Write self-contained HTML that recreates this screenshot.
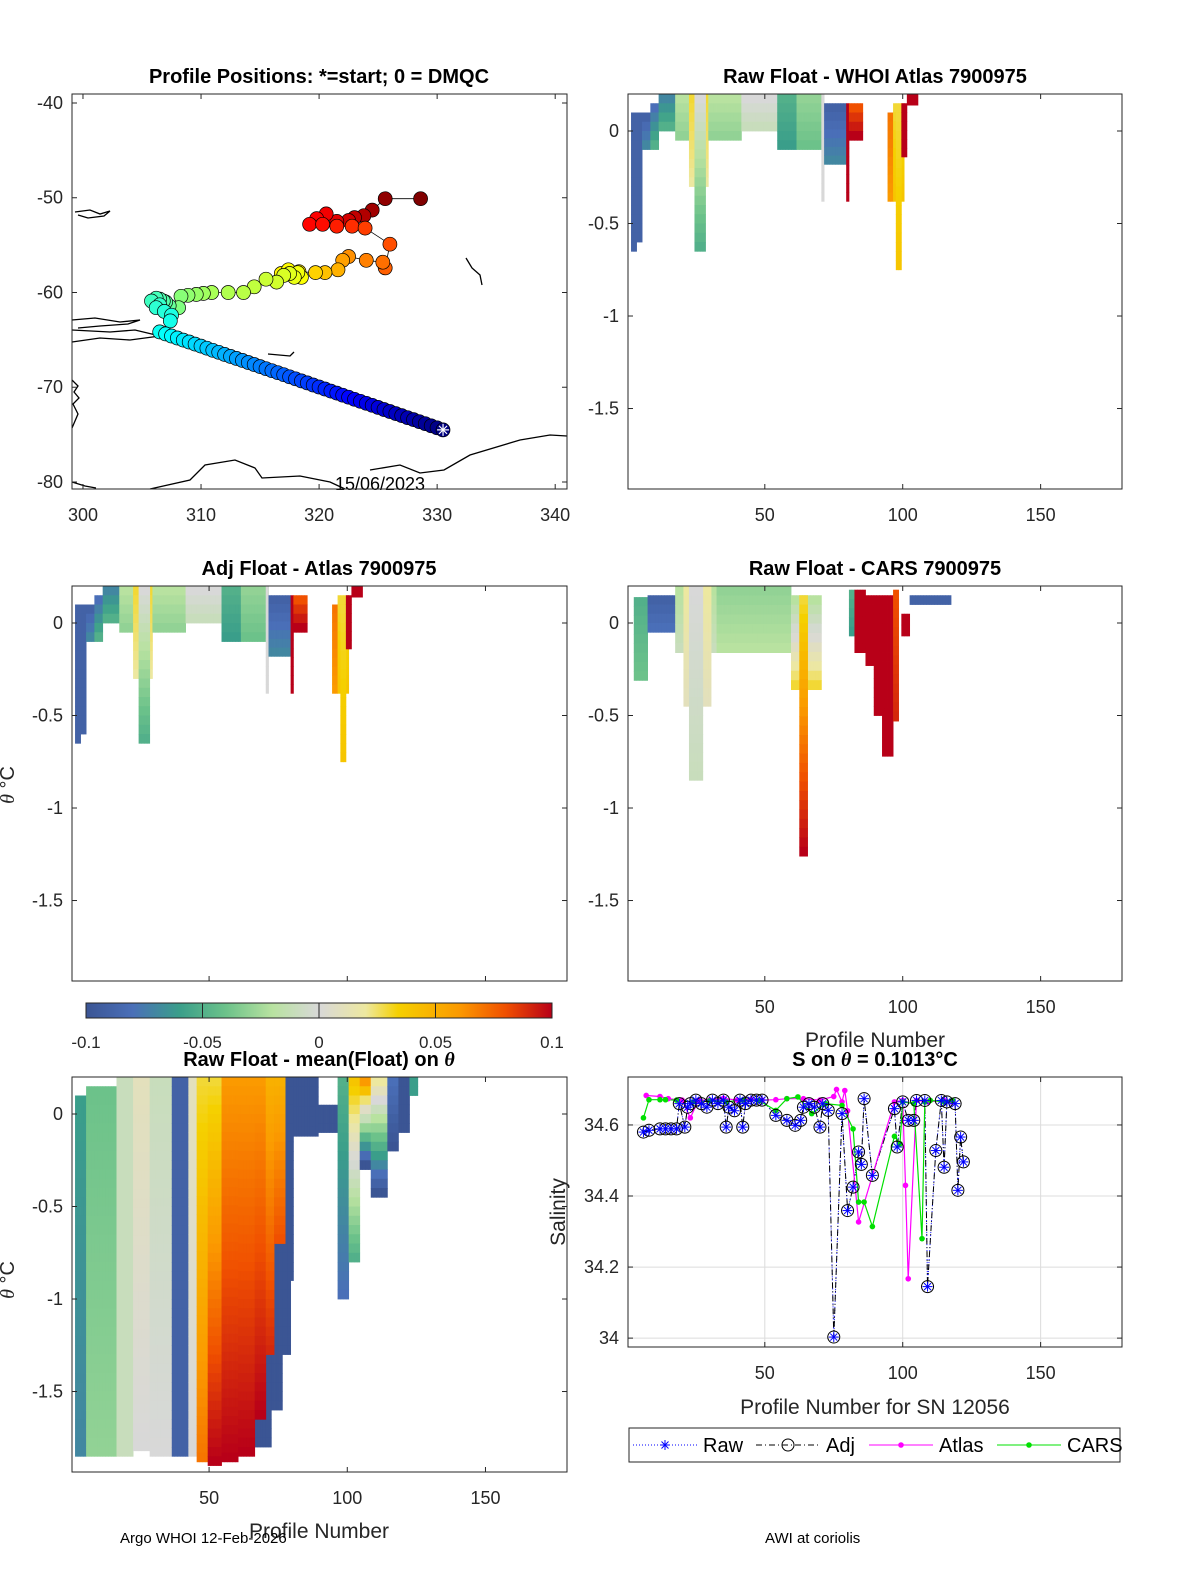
<!DOCTYPE html>
<html><head><meta charset="utf-8"><style>
html,body{margin:0;padding:0;background:#fff}
svg{display:block;font-family:"Liberation Sans",sans-serif}
.t{font-weight:bold;font-size:20px;text-anchor:middle}
.tk{font-size:18px;fill:#262626}
</style></head><body>
<svg id="fig" width="1200" height="1575" viewBox="0 0 1200 1575" xmlns="http://www.w3.org/2000/svg">
<defs>
<linearGradient id="cbg" x1="0" x2="1" y1="0" y2="0">
<stop offset="0" stop-color="#3b5594"/><stop offset="0.1" stop-color="#4a6fb8"/><stop offset="0.2" stop-color="#3a9e8a"/><stop offset="0.3" stop-color="#6cc28a"/><stop offset="0.4" stop-color="#b8e2a0"/><stop offset="0.5" stop-color="#d8d8d8"/><stop offset="0.6" stop-color="#ede8a0"/><stop offset="0.67" stop-color="#f5d000"/><stop offset="0.8" stop-color="#fb9a00"/><stop offset="0.9" stop-color="#f05000"/><stop offset="1" stop-color="#b80018"/>
</linearGradient>
</defs>
<g id="layer"></g>
<text class="t" x="319" y="83">Profile Positions: *=start; 0 = DMQC</text>
<text class="t" x="875" y="83">Raw Float - WHOI Atlas  7900975</text>
<text class="t" x="319" y="575">Adj Float - Atlas  7900975</text>
<text class="t" x="875" y="575">Raw Float - CARS  7900975</text>
<text class="t" x="319" y="1066">Raw Float - mean(Float) on <tspan font-style="italic" font-family="Liberation Serif">θ</tspan></text>
<text class="t" x="875" y="1066">S on <tspan font-style="italic" font-family="Liberation Serif">θ</tspan> = 0.1013°C</text>
<text x="875" y="1047" font-size="21" text-anchor="middle" fill="#262626">Profile Number</text>
<text x="875" y="1414" font-size="21" text-anchor="middle" fill="#262626">Profile Number for SN 12056</text>
<text x="319" y="1538" font-size="21" text-anchor="middle" fill="#262626">Profile Number</text>
<text transform="translate(565,1212) rotate(-90)" font-size="21" text-anchor="middle" fill="#262626">Salinity</text>
<text transform="translate(14,785) rotate(-90)" font-size="20" text-anchor="middle" fill="#262626"><tspan font-style="italic" font-family="Liberation Serif">θ</tspan> °C</text>
<text transform="translate(14,1280) rotate(-90)" font-size="20" text-anchor="middle" fill="#262626"><tspan font-style="italic" font-family="Liberation Serif">θ</tspan> °C</text>
<text x="120" y="1543" font-size="15" fill="#000">Argo WHOI 12-Feb-2026</text>
<text x="765" y="1543" font-size="15" fill="#000">AWI at coriolis</text>
</svg>
<script>
// ---------- DATA ----------
const mapLon=[330.5,330,329.5,329,328.5,328,327.5,327,326.5,326,325.5,325,324.5,324,323.5,323,322.5,322,321.5,321,320.5,320,319.5,319,318.5,318,317.5,317,316.5,316,315.5,315,314.5,314,313.5,313,312.5,312,311.5,311,310.5,310,309.5,309,308.5,308,307.5,307,306.5,
307.4,307.5,306.9,306.2,306.5,305.8,306.2,306.5,306.8,307.0,307.3,
308.1,308.3,308.9,309.6,310.2,310.9,312.3,313.6,314.5,315.5,316.4,317.0,317.5,317.9,318.2,318.5,317.4,316.8,
318.3,319.7,320.5,321.6,322.0,322.5,324.0,325.4,325.6,326.0,323.9,
322.8,321.5,320.3,319.2,319.8,320.6,321.5,322.5,323.0,323.8,324.5,325.6,328.6];
const mapLat=[-74.50,-74.28,-74.07,-73.85,-73.64,-73.42,-73.21,-72.99,-72.78,-72.56,-72.35,-72.13,-71.91,-71.70,-71.48,-71.27,-71.05,-70.84,-70.62,-70.41,-70.19,-69.97,-69.76,-69.54,-69.33,-69.11,-68.90,-68.68,-68.47,-68.25,-68.04,-67.82,-67.60,-67.39,-67.17,-66.96,-66.74,-66.53,-66.31,-66.10,-65.88,-65.66,-65.45,-65.23,-65.02,-64.80,-64.59,-64.37,-64.16,
-63.0,-62.4,-62.0,-61.6,-61.3,-60.9,-60.6,-60.7,-60.9,-61.0,-61.4,
-61.6,-60.4,-60.3,-60.2,-60.1,-60.0,-60.0,-60.0,-59.4,-58.6,-58.9,-58.2,-58.0,-58.4,-57.9,-58.4,-57.6,-58.0,
-57.8,-57.9,-57.9,-57.6,-56.6,-56.2,-56.6,-56.8,-57.4,-54.9,-53.2,
-53.0,-53.0,-52.8,-52.8,-52.2,-51.7,-52.5,-52.4,-52.1,-51.9,-51.3,-50.1,-50.1];
const mapCyc=[1,2,3,4,5,6,7,8,9,10,11,12,13,14,15,16,17,18,19,20,21,22,23,24,25,26,27,28,29,30,31,32,33,34,35,36,37,38,39,40,41,42,43,44,45,46,47,48,49,
50,51,52,53,54,55,56,57,58,59,60,
63,64,65,66,67,68,69,70,71,72,73,74,75,76,77,78,79,80,
82,84,86,88,90,92,94,96,98,100,102,
104,106,108,109,110,111,113,115,117,119,121,123,125];

const whoiP0=[2,4,6,9,12,18,23,25,30,42,55,62,71,72,80,81,95,97,98,100,102];
const whoiP1=[3,5,8,11,17,22,29,28,41,54,61,71,71,79,80,85,96,100,99,101,105];
const whoiTop=[0.1,0.1,0.1,0.15,0.2,0.2,0.2,0.2,0.2,0.2,0.2,0.2,0.2,0.15,0.15,0.15,0.1,0.15,0.1,0.15,0.2];
const whoiBot=[-0.65,-0.6,-0.1,-0.1,0.0,-0.05,-0.3,-0.65,-0.05,0.0,-0.1,-0.1,-0.38,-0.18,-0.38,-0.05,-0.38,-0.38,-0.75,-0.14,0.14];
const whoiV0=[-0.09,-0.09,-0.09,-0.08,-0.07,-0.02,0.03,0.0,-0.02,0.0,-0.05,-0.03,0.0,-0.09,0.1,0.08,0.07,0.03,0.03,0.1,0.1];
const whoiV1=[-0.09,-0.09,-0.07,-0.05,-0.05,-0.03,0.02,-0.05,-0.03,-0.01,-0.06,-0.04,0.0,-0.07,0.1,0.1,0.06,0.04,0.04,0.1,0.1];

const adjP0=[2,4,6,9,12,18,23,25,30,42,55,62,71,72,80,81,95,97,98,100,102];
const adjP1=[3,5,8,11,17,22,29,28,41,54,61,71,71,79,80,85,96,100,99,101,105];
const adjTop=[0.1,0.1,0.1,0.15,0.2,0.2,0.2,0.2,0.2,0.2,0.2,0.2,0.2,0.15,0.15,0.15,0.1,0.15,0.1,0.15,0.2];
const adjBot=[-0.65,-0.6,-0.1,-0.1,0.0,-0.05,-0.3,-0.65,-0.05,0.0,-0.1,-0.1,-0.38,-0.18,-0.38,-0.05,-0.38,-0.38,-0.75,-0.14,0.14];
const adjV0=[-0.09,-0.09,-0.09,-0.08,-0.07,-0.02,0.03,0.0,-0.02,0.0,-0.05,-0.03,0.0,-0.09,0.1,0.08,0.07,0.03,0.03,0.1,0.1];
const adjV1=[-0.09,-0.09,-0.07,-0.05,-0.05,-0.03,0.02,-0.05,-0.03,-0.01,-0.06,-0.04,0.0,-0.07,0.1,0.1,0.06,0.04,0.04,0.1,0.1];

const carsP0=[3,8,18,21,23,33,60,63,81,83,87,90,93,97,100,103];
const carsP1=[7,17,32,30,27,59,70,65,82,86,89,92,96,98,102,117];
const carsTop=[0.14,0.15,0.2,0.2,0.2,0.2,0.15,0.15,0.18,0.18,0.15,0.15,0.15,0.18,0.05,0.15];
const carsBot=[-0.31,-0.05,-0.16,-0.45,-0.85,-0.16,-0.36,-1.26,-0.07,-0.16,-0.23,-0.5,-0.72,-0.53,-0.07,0.1];
const carsV0=[-0.05,-0.09,-0.02,0.02,0.0,-0.03,-0.02,0.03,-0.05,0.1,0.1,0.1,0.1,0.08,0.1,-0.09];
const carsV1=[-0.04,-0.08,-0.01,0.01,-0.01,-0.02,0.03,0.1,-0.06,0.1,0.1,0.1,0.1,0.09,0.1,-0.09];

const anomP0=[2,6,17,23,29,37,43,46,50,66,73,77,80,55,61,67,71,74,81,90,97,101,105,109,115,119,123];
const anomP1=[5,16,22,28,36,42,45,49,54,72,76,79,80,60,66,70,73,77,89,96,100,104,108,114,118,122,125];
const anomTop=[0.1,0.15,0.2,0.2,0.2,0.2,0.2,0.2,0.2,0.2,0.2,0.2,0.2,0.2,0.2,0.2,0.2,0.2,0.2,0.05,0.2,0.2,0.2,0.2,0.2,0.2,0.2];
const anomBot=[-1.85,-1.85,-1.85,-1.82,-1.85,-1.85,-1.85,-1.88,-1.9,-1.8,-1.6,-1.3,-0.9,-1.88,-1.85,-1.65,-1.3,-0.7,-0.12,-0.1,-1.0,-0.8,-0.3,-0.45,-0.2,-0.1,0.1];
const anomV0=[-0.06,-0.04,-0.01,0.01,-0.01,-0.09,0.01,0.03,0.03,-0.1,-0.1,-0.1,-0.1,0.06,0.06,0.06,0.05,0.05,-0.1,-0.1,-0.05,0.04,0.06,0.02,-0.08,-0.1,-0.06];
const anomV1=[-0.07,-0.03,-0.01,0.0,0.0,-0.09,0.0,0.07,0.1,-0.1,-0.1,-0.1,-0.1,0.1,0.1,0.1,0.09,0.08,-0.1,-0.1,-0.08,-0.05,-0.1,-0.1,-0.1,-0.1,-0.06];

const rawProf=[6,8,12,14,16,18,19,21,22,23,25,27,29,31,33,35,36,37,39,41,42,43,45,47,49,54,58,61,63,64,66,68,70,71,73,75,78,80,82,84,85,86,89,97,98,100,102,104,105,108,109,112,114,115,116,119,120,121,122];
const rawSal=[34.58,34.585,34.589,34.589,34.589,34.589,34.66,34.594,34.65,34.66,34.67,34.66,34.65,34.67,34.66,34.67,34.594,34.65,34.64,34.67,34.594,34.66,34.67,34.67,34.67,34.627,34.613,34.599,34.613,34.65,34.66,34.65,34.594,34.66,34.641,34.003,34.632,34.359,34.425,34.524,34.489,34.674,34.458,34.646,34.538,34.665,34.613,34.613,34.669,34.669,34.145,34.528,34.669,34.481,34.665,34.66,34.416,34.566,34.496];
const adjProf=[6,8,12,14,16,18,19,21,22,23,25,27,29,31,33,35,36,37,39,41,42,43,45,47,49,54,58,61,63,64,66,68,70,71,73,75,78,80,82,84,85,86,89,97,98,100,102,104,105,108,109,112,114,115,116,119,120,121,122];
const adjSal=[34.58,34.585,34.589,34.589,34.589,34.589,34.66,34.594,34.65,34.66,34.67,34.66,34.65,34.67,34.66,34.67,34.594,34.65,34.64,34.67,34.594,34.66,34.67,34.67,34.67,34.627,34.613,34.599,34.613,34.65,34.66,34.65,34.594,34.66,34.641,34.003,34.632,34.359,34.425,34.524,34.489,34.674,34.458,34.646,34.538,34.665,34.613,34.613,34.669,34.669,34.145,34.528,34.669,34.481,34.665,34.66,34.416,34.566,34.496];
const atlasProf=[7,12,15,20,23,26,30,35,40,45,49,54,58,64,70,75,76,78,79,80,84,97,100,101,102,105,109,115,118];
const atlasSal=[34.683,34.68,34.674,34.67,34.62,34.67,34.67,34.675,34.67,34.672,34.67,34.671,34.674,34.674,34.67,34.68,34.70,34.665,34.697,34.64,34.327,34.665,34.669,34.43,34.167,34.669,34.665,34.669,34.665];
const carsProf=[6,8,12,14,18,24,30,36,42,48,54,58,62,67,72,78,82,84,86,89,97,99,100,104,107,108,110,115,118];
const carsSal=[34.62,34.671,34.671,34.671,34.67,34.665,34.668,34.665,34.67,34.668,34.641,34.674,34.679,34.632,34.66,34.655,34.589,34.383,34.383,34.314,34.568,34.547,34.665,34.66,34.28,34.665,34.669,34.665,34.669];

const mapXTicks=[300,310,320,330,340];
const mapYTicks=[-40,-50,-60,-70,-80];
const profTicks=[50,100,150];
const thetaTicks=[0,-0.5,-1,-1.5];
const thetaTickLabels=['0','-0.5','-1','-1.5'];
const salTicks=[34,34.2,34.4,34.6];
const salTickLabels=['34','34.2','34.4','34.6'];
const cbarTicks=[-0.1,-0.05,0,0.05,0.1];
const cbarTickLabels=['-0.1','-0.05','0','0.05','0.1'];

// ---------- HELPERS ----------
const NS='http://www.w3.org/2000/svg';
const layer=document.getElementById('layer');
function mk(tag,attrs,parent){const e=document.createElementNS(NS,tag);for(const k in attrs)e.setAttribute(k,attrs[k]);(parent||layer).appendChild(e);return e;}
function lin(d0,d1,r0,r1){return v=>r0+(v-d0)*(r1-r0)/(d1-d0);}
const cstops=[[-0.1,[59,85,148]],[-0.08,[74,111,184]],[-0.06,[58,158,138]],[-0.04,[108,194,138]],[-0.02,[184,226,160]],[0,[216,216,216]],[0.02,[237,232,160]],[0.035,[245,208,0]],[0.06,[251,154,0]],[0.08,[240,80,0]],[0.1,[184,0,24]]];
function cmap(v){v=Math.max(-0.1,Math.min(0.1,v));for(let i=0;i<cstops.length-1;i++){const a=cstops[i],b=cstops[i+1];if(v<=b[0]){const t=(v-a[0])/(b[0]-a[0]);const c=a[1].map((x,j)=>Math.round(x+(b[1][j]-x)*t));return 'rgb('+c.join(',')+')';}}return 'rgb(184,0,24)';}
function jet(t){const r=Math.min(1,Math.max(0,1.5-Math.abs(4*t-3))),g=Math.min(1,Math.max(0,1.5-Math.abs(4*t-2))),b=Math.min(1,Math.max(0,1.5-Math.abs(4*t-1)));return 'rgb('+[r,g,b].map(x=>Math.round(x*255)).join(',')+')';}

function axesBox(x0,y0,x1,y1,name){
  const r=mk('rect',{x:x0,y:y0,width:x1-x0,height:y1-y0,fill:'none',stroke:'#262626','stroke-width':1});
  
  
}
function xTicks(X,ticks,labels,y0,y1,name,nolabel){
  ticks.forEach((t,i)=>{const x=X(t);
    mk('line',{x1:x,x2:x,y1:y1,y2:y1-5,stroke:'#262626'});
    mk('line',{x1:x,x2:x,y1:y0,y2:y0+5,stroke:'#262626'});
    if(nolabel)return;
    const tx=mk('text',{x:x,y:y1+32,class:'tk','text-anchor':'middle'});tx.textContent=labels[i];
    
    
  });
}
function yTicks(Y,ticks,labels,x0,x1,name){
  ticks.forEach((t,i)=>{const y=Y(t);
    mk('line',{x1:x0,x2:x0+5,y1:y,y2:y,stroke:'#262626'});
    mk('line',{x1:x1,x2:x1-5,y1:y,y2:y,stroke:'#262626'});
    const tx=mk('text',{x:x0-9,y:y+6,class:'tk','text-anchor':'end'});tx.textContent=labels[i];
    
    
  });
}
function heat(x0,y0,x1,y1,P0,P1,TOP,BOT,V0,V1,name,nolabel){
  const X=lin(0.4,179.5,x0,x1),Y=lin(0.2,-1.935,y0,y1);
  const g=mk('g',{});
  
  
  for(let k=0;k<P0.length;k++){
    for(let p=P0[k];p<=P1[k];p++){
      const n=Math.max(1,Math.round((TOP[k]-BOT[k])/0.05));
      for(let j=0;j<n;j++){
        const ta=TOP[k]-(TOP[k]-BOT[k])*j/n,tb=TOP[k]-(TOP[k]-BOT[k])*(j+1)/n;
        const f=n>1?j/(n-1):0;
        const v=V0[k]+(V1[k]-V0[k])*f;
        const c=mk('rect',{x:X(p-0.5).toFixed(2),y:Y(ta).toFixed(2),width:(X(p+0.5)-X(p-0.5)+0.4).toFixed(2),height:(Y(tb)-Y(ta)+0.4).toFixed(2),fill:cmap(v)},g);
        
        
      }
    }
  }
  axesBox(x0,y0,x1,y1,name+'-axes');
  xTicks(X,profTicks,profTicks.map(String),y0,y1,name+'-x',nolabel);
  yTicks(Y,thetaTicks,thetaTickLabels,x0,x1,name+'-y');
}

// ---------- MAP ----------
(function(){
  const x0=72,y0=94,x1=567,y1=489;
  const X=lin(299.07,341.0,x0,x1),Y=lin(-39.05,-80.74,y0,y1);
  const coast=mk('g',{fill:'none',stroke:'#000','stroke-width':1.3});
  
  
  ['M75,212 L90,210 L100,214 L110,211 L104,216 L88,218 L78,215','M72,320 L95,318 L120,322 L140,320 L128,324 L100,326 L78,328','M72,330 L110,332 L135,330 L160,336 L130,340 L100,338 L72,342',
   'M72,380 L78,386 L74,392 L79,398 L73,404 L78,414 L72,428','M72,482 L85,486 L96,488','M150,489 L190,480 L205,465 L235,460 L255,468 L262,478 L300,476 L330,482 L345,489',
   'M370,470 L400,465 L420,473 L444,470 L470,455 L520,440 L550,435 L567,436','M268,354 L290,356 L294,352','M466,258 L472,268 L480,275 L482,285'].forEach(d=>mk('path',{d:d},coast));
  const tr=mk('polyline',{points:mapLon.map((v,i)=>X(v).toFixed(1)+','+Y(mapLat[i]).toFixed(1)).join(' '),fill:'none',stroke:'#000','stroke-width':0.8});
  
  
  const N=mapLon.length;
  const cmax=Math.max(...mapCyc);
  for(let i=N-1;i>=0;i--){
    const c=mk('circle',{cx:X(mapLon[i]).toFixed(1),cy:Y(mapLat[i]).toFixed(1),r:7,fill:jet((mapCyc[i]-1)/(cmax-1)),stroke:'#000','stroke-width':0.7});
    
    
  }
  const sx=X(mapLon[0]),sy=Y(mapLat[0]);
  const st=mk('g',{stroke:'#fff','stroke-width':1.2});
  
  
  [[-6,0,6,0],[0,-6,0,6],[-4,-4,4,4],[-4,4,4,-4]].forEach(a=>mk('line',{x1:sx+a[0],y1:sy+a[1],x2:sx+a[2],y2:sy+a[3]},st));
  const dt=mk('text',{x:380,y:490,'font-size':18,'text-anchor':'middle',fill:'#000'});dt.textContent='15/06/2023';
  
  
  axesBox(x0,y0,x1,y1,'map-axes');
  xTicks(X,mapXTicks,mapXTicks.map(String),y0,y1,'map-x');
  yTicks(Y,mapYTicks,mapYTicks.map(String),x0,x1,'map-y');
})();

heat(628,94,1122,489,whoiP0,whoiP1,whoiTop,whoiBot,whoiV0,whoiV1,'whoi-heatmap');
heat(72,586,567,981,adjP0,adjP1,adjTop,adjBot,adjV0,adjV1,'adj-heatmap',true);
heat(628,586,1122,981,carsP0,carsP1,carsTop,carsBot,carsV0,carsV1,'cars-heatmap');
heat(72,1077,567,1472,anomP0,anomP1,anomTop,anomBot,anomV0,anomV1,'anomaly-heatmap');

// ---------- COLORBAR ----------
(function(){
  const X=lin(-0.1,0.1,86,552);
  const r=mk('rect',{x:86,y:1003,width:466,height:15,fill:'url(#cbg)',stroke:'#262626'});
  
  
  cbarTicks.forEach((t,i)=>{const x=X(t);
    mk('line',{x1:x,x2:x,y1:1003,y2:1018,stroke:'#262626'});
    const tx=mk('text',{x:x,y:1048,'font-size':17,'text-anchor':'middle',fill:'#262626'});tx.textContent=cbarTickLabels[i];
    
    
  });
})();

// ---------- SALINITY ----------
(function(){
  const x0=628,y0=1077,x1=1122,y1=1347;
  const X=lin(0.4,179.5,x0,x1),Y=lin(34.735,33.975,y0,y1);
  profTicks.forEach(t=>mk('line',{x1:X(t),x2:X(t),y1:y0,y2:y1,stroke:'#dcdcdc'}));
  salTicks.forEach(t=>mk('line',{x1:x0,x2:x1,y1:Y(t),y2:Y(t),stroke:'#dcdcdc'}));
  function series(P,S,color,dash,w,name){
    const l=mk('polyline',{points:P.map((p,i)=>X(p).toFixed(1)+','+Y(S[i]).toFixed(1)).join(' '),fill:'none',stroke:color,'stroke-width':w,'stroke-dasharray':dash});
    
    
  }
  series(rawProf,rawSal,'#0000ff','1,2',1,'raw-line');
  series(adjProf,adjSal,'#000','6,3,1,3',1,'adj-line');
  series(atlasProf,atlasSal,'#ff00ff','',1.2,'atlas-line');
  series(carsProf,carsSal,'#00e000','',1.2,'cars-line');
  atlasProf.forEach((p,i)=>{const c=mk('circle',{cx:X(p),cy:Y(atlasSal[i]),r:2.8,fill:'#ff00ff'});
    
    });
  carsProf.forEach((p,i)=>{const c=mk('circle',{cx:X(p),cy:Y(carsSal[i]),r:2.8,fill:'#00e000'});
    
    });
  adjProf.forEach((p,i)=>{const cx=X(p),cy=Y(adjSal[i]);
    const c=mk('circle',{cx:cx,cy:cy,r:6,fill:'none',stroke:'#000','stroke-width':1});
    
    });
  rawProf.forEach((p,i)=>{const cx=X(p),cy=Y(rawSal[i]);
    const g=mk('g',{stroke:'#0000ff','stroke-width':1});
    
    
    [[-5,0,5,0],[0,-5,0,5],[-3.5,-3.5,3.5,3.5],[-3.5,3.5,3.5,-3.5]].forEach(a=>mk('line',{x1:cx+a[0],y1:cy+a[1],x2:cx+a[2],y2:cy+a[3]},g));});
  axesBox(x0,y0,x1,y1,'salinity-axes');
  xTicks(X,profTicks,profTicks.map(String),y0,y1,'salinity-x');
  yTicks(Y,salTicks,salTickLabels,x0,x1,'salinity-y');
  const lg=mk('g',{});
  
  
  mk('rect',{x:629,y:1428,width:491,height:34,fill:'#fff',stroke:'#262626'},lg);
  const ent=[['Raw',633,'#0000ff','1,2'],['Adj',756,'#000','6,3,1,3'],['Atlas',869,'#ff00ff',''],['CARS',997,'#00e000','']];
  ent.forEach((e,i)=>{
    const gi=mk('g',{},lg);
    
    
    mk('line',{x1:e[1],x2:e[1]+64,y1:1445,y2:1445,stroke:e[2],'stroke-dasharray':e[3]},gi);
    const m=e[1]+32;
    if(i===0){[[-5,0,5,0],[0,-5,0,5],[-3.5,-3.5,3.5,3.5],[-3.5,3.5,3.5,-3.5]].forEach(a=>mk('line',{x1:m+a[0],y1:1445+a[1],x2:m+a[2],y2:1445+a[3],stroke:'#0000ff'},gi));}
    else if(i===1){mk('circle',{cx:m,cy:1445,r:6,fill:'none',stroke:'#000'},gi);}
    else{mk('circle',{cx:m,cy:1445,r:2.8,fill:e[2]},gi);}
    const t=mk('text',{x:e[1]+70,y:1452,'font-size':20,fill:'#000'},gi);t.textContent=e[0];
  });
})();
</script>
</body></html>
